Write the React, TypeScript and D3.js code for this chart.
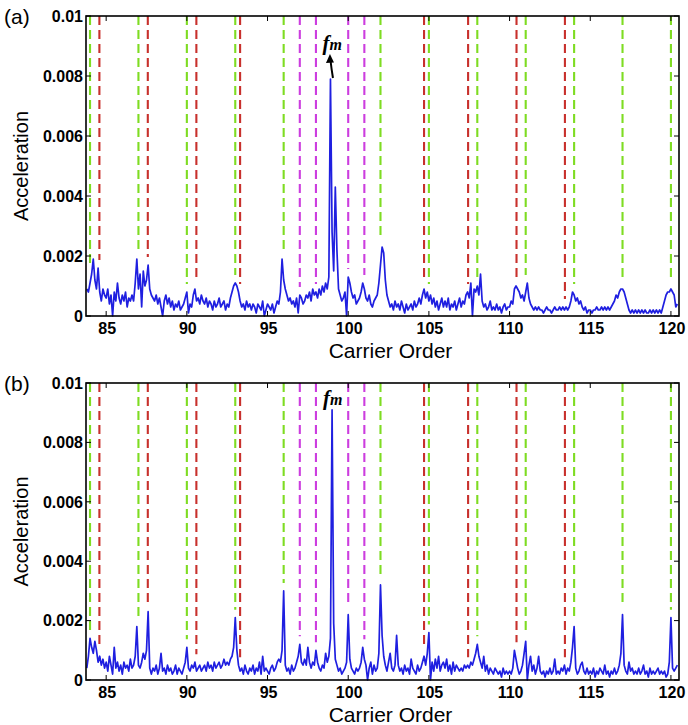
import React from 'react';
import * as d3 from 'd3';

// spectrum sampled every 0.1 carrier order from 83.8 to 120.4, amplitudes in units of 1e-4
const ORDER_START = 83.8;
const ORDER_STEP = 0.1;
const UNIT = 1e-4;

const spectrumA = [
  9, 8,
  11, 14, 19, 12, 9, 16, 8, 5, 9, 7,
  6, 9, 4, 7, 0, 8, 5, 11, 6, 4,
  7, 5, 8, 3, 6, 5, 7, 5, 11, 19,
  9, 14, 3, 15, 10, 12, 17, 9, 7, 6,
  5, 7, 4, 6, 3, 0, 5, 7, 4, 6,
  3, 5, 2, 4, 3, 5, 2, 3, 4, 6,
  8, 1, 4, 3, 7, 9, 5, 6, 4, 7,
  5, 4, 6, 3, 5, 4, 2, 5, 3, 4,
  6, 3, 4, 5, 2, 4, 3, 6, 8, 10,
  11, 10, 8, 5, 3, 4, 2, 5, 3, 4,
  2, 4, 3, 1, 4, 3, 2, 5, 0, 2,
  4, 3, 2, 4, 1, 3, 5, 4, 8, 19,
  12, 9, 7, 5, 6, 4, 5, 3, 6, 1,
  7, 6, 4, 5, 7, 6, 8, 5, 9, 7,
  8, 6, 9, 7, 10, 8, 11, 9, 13, 79,
  28, 15, 43, 22, 9, 7, 5, 6, 8, 0,
  13, 11, 8, 6, 7, 4, 5, 6, 8, 11,
  9, 6, 5, 7, 4, 3, 5, 6, 7, 11,
  17, 23, 21, 12, 7, 5, 3, 4, 2, 5,
  3, 4, 2, 5, 3, 1, 4, 2, 3, 4,
  2, 5, 3, 4, 6, 4, 7, 9, 6, 8,
  5, 7, 4, 6, 3, 5, 2, 4, 6, 3,
  5, 3, 6, 2, 4, 3, 5, 2, 4, 6,
  3, 5, 4, 7, 8, 6, 11, 0, 9, 8,
  10, 7, 14, 5, 3, 4, 2, 3, 5, 2,
  3, 2, 4, 2, 3, 1, 3, 4, 2, 3,
  3, 5, 4, 9, 10, 9, 8, 6, 7, 5,
  8, 11, 6, 4, 3, 2, 3, 2, 3, 2,
  2, 1, 2, 3, 2, 2, 1, 2, 3, 2,
  2, 3, 2, 3, 2, 3, 2, 3, 5, 8,
  7, 5, 6, 4, 5, 3, 2, 3, 1, 2,
  2, 1, 2, 2, 3, 2, 2, 3, 2, 3,
  2, 3, 2, 3, 4, 5, 7, 6, 8, 9,
  9, 8, 6, 4, 2, 1, 2, 1, 2, 1,
  2, 1, 2, 1, 2, 1, 1, 2, 1, 2,
  1, 2, 1, 2, 1, 3, 5, 7, 8, 8,
  9, 8, 7, 3, 4,
];

const spectrumB = [
  4, 8,
  14, 11, 9, 13, 10, 6, 8, 5, 7, 4,
  6, 3, 8, 5, 2, 11, 4, 6, 3, 5,
  2, 6, 4, 5, 3, 7, 4, 5, 8, 18,
  5, 4, 6, 9, 7, 10, 23, 4, 2, 4,
  3, 5, 2, 4, 9, 3, 4, 2, 5, 3,
  4, 2, 3, 5, 2, 4, 3, 2, 4, 6,
  11, 4, 3, 5, 4, 6, 3, 4, 5, 3,
  4, 5, 3, 6, 4, 5, 3, 6, 4, 5,
  6, 4, 5, 7, 5, 6, 5, 7, 8, 11,
  21, 10, 5, 3, 4, 2, 5, 3, 2, 4,
  3, 5, 2, 4, 3, 6, 2, 8, 3, 4,
  3, 2, 4, 5, 3, 4, 6, 7, 6, 10,
  30, 5, 3, 4, 2, 5, 3, 4, 6, 8,
  12, 6, 5, 7, 5, 11, 6, 4, 6, 5,
  10, 6, 4, 3, 5, 4, 9, 6, 8, 14,
  91, 19, 7, 5, 3, 4, 2, 3, 4, 6,
  22, 7, 4, 3, 2, 4, 3, 4, 6, 11,
  7, 5, 0, 4, 6, 2, 5, 3, 4, 9,
  32, 15, 8, 5, 3, 6, 9, 4, 3, 5,
  15, 5, 3, 4, 2, 5, 3, 4, 2, 7,
  4, 3, 2, 5, 3, 4, 6, 8, 5, 9,
  16, 0, 6, 3, 7, 4, 8, 3, 5, 6,
  4, 7, 3, 5, 2, 6, 3, 5, 4, 3,
  4, 3, 5, 4, 5, 4, 6, 5, 7, 9,
  12, 8, 6, 4, 8, 3, 5, 2, 4, 3,
  2, 4, 3, 2, 3, 1, 4, 2, 3, 2,
  3, 2, 4, 10, 7, 4, 2, 3, 5, 9,
  13, 0, 5, 8, 3, 5, 2, 4, 8, 3,
  2, 3, 1, 3, 2, 4, 2, 3, 7, 2,
  3, 2, 4, 3, 5, 2, 4, 3, 6, 11,
  18, 4, 2, 3, 5, 6, 3, 2, 4, 2,
  3, 2, 4, 1, 3, 2, 4, 3, 2, 5,
  2, 3, 1, 3, 2, 4, 2, 3, 5, 9,
  22, 5, 3, 2, 6, 3, 4, 2, 3, 2,
  4, 2, 3, 5, 2, 3, 1, 4, 2, 3,
  2, 3, 4, 2, 3, 2, 3, 1, 2, 6,
  21, 4, 3, 4, 5,
];

const greenOrders = [84, 87, 90, 93, 96, 102, 105, 108, 111, 114, 117, 120];
const redOrders = [84.58, 87.58, 90.59, 93.3, 104.7, 107.43, 110.43, 113.43];
const magentaOrders = [97, 98, 100, 101];

const xTicks = [85, 90, 95, 100, 105, 110, 115, 120];
const yTicks = [0, 0.002, 0.004, 0.006, 0.008, 0.01];
const yTickLabels = ['0', '0.002', '0.004', '0.006', '0.008', '0.01'];
const panelLabels = ['(a)', '(b)'];
const xTitle = 'Carrier Order';
const yTitle = 'Acceleration';

const X_DOMAIN: [number, number] = [83.75, 120.5];
const LEFT = 86;
const RIGHT = 679;
const SANS = '"Liberation Sans", Arial, Helvetica, sans-serif';
const SERIF = '"Liberation Serif", "Times New Roman", serif';

const BLUE = '#1f1fe0';
const GREEN = '#7edc22';
const RED = '#c8302c';
const MAGENTA = '#cc3ddf';

type PanelProps = {
  data: number[];
  top: number;
  bottom: number;
  label: string;
  arrow: boolean;
};

function Panel({ data, top, bottom, label, arrow }: PanelProps) {
  const x = d3.scaleLinear().domain(X_DOMAIN).range([LEFT, RIGHT]);
  const y = d3.scaleLinear().domain([0, 0.01]).range([bottom, top]);
  const pts = data.map((v, i) => ({ o: ORDER_START + i * ORDER_STEP, v: v * UNIT }));
  const line = d3
    .line<{ o: number; v: number }>()
    .x((d) => x(d.o))
    .y((d) => y(d.v));

  const localMax = (pos: number) => {
    const near = pts.filter((p) => Math.abs(p.o - pos) <= 0.151);
    return d3.max(near, (p) => p.v) ?? 0;
  };

  const dash = (orders: number[], color: string, key: string) =>
    orders.map((o) => (
      <line
        key={key + o}
        x1={x(o)}
        x2={x(o)}
        y1={top}
        y2={Math.max(top, y(localMax(o)) - 8)}
        stroke={color}
        strokeWidth={2.1}
        strokeDasharray="9,5"
      />
    ));

  const peakIdx = d3.maxIndex(pts, (p) => p.v);
  const peak = pts[peakIdx];
  const px = x(peak.o);
  const py = y(peak.v);

  const clipId = 'clip-' + label.replace(/[()]/g, '');

  return (
    <g>
      <defs>
        <clipPath id={clipId}>
          <rect x={LEFT} y={top} width={RIGHT - LEFT} height={bottom - top + 3} />
        </clipPath>
      </defs>
      {dash(greenOrders, GREEN, 'g')}
      {dash(redOrders, RED, 'r')}
      {dash(magentaOrders, MAGENTA, 'm')}
      <path
        d={line(pts) ?? ''}
        fill="none"
        stroke={BLUE}
        strokeWidth={1.7}
        strokeLinejoin="round"
        clipPath={`url(#${clipId})`}
      />
      <rect
        x={LEFT}
        y={top}
        width={RIGHT - LEFT}
        height={bottom - top}
        fill="none"
        stroke="#000"
        strokeWidth={1.6}
      />
      {yTicks.map((t, i) => (
        <g key={'yt' + i}>
          <line x1={LEFT} x2={LEFT + 5} y1={y(t)} y2={y(t)} stroke="#000" strokeWidth={1} />
          <line x1={RIGHT} x2={RIGHT - 5} y1={y(t)} y2={y(t)} stroke="#000" strokeWidth={1} />
          <text
            x={LEFT - 3}
            y={y(t)}
            dy="0.36em"
            textAnchor="end"
            fontFamily={SANS}
            fontWeight="bold"
            fontSize={16}
            fill="#000"
          >
            {yTickLabels[i]}
          </text>
        </g>
      ))}
      {xTicks.map((t) => (
        <g key={'xt' + t}>
          <line x1={x(t)} x2={x(t)} y1={bottom} y2={bottom - 5} stroke="#000" strokeWidth={1} />
          <line x1={x(t)} x2={x(t)} y1={top} y2={top + 5} stroke="#000" strokeWidth={1} />
          <text
            x={x(t) + 1}
            y={bottom + 18}
            textAnchor="middle"
            fontFamily={SANS}
            fontWeight="bold"
            fontSize={16}
            fill="#000"
          >
            {t}
          </text>
        </g>
      ))}
      <text
        x={LEFT + (RIGHT - LEFT) / 2 + 8}
        y={bottom + 42}
        textAnchor="middle"
        fontFamily={SANS}
        fontSize={21}
        fill="#000"
      >
        {xTitle}
      </text>
      <text
        transform={`translate(28, ${(top + bottom) / 2}) rotate(-90)`}
        textAnchor="middle"
        fontFamily={SANS}
        fontSize={20}
        fill="#000"
      >
        {yTitle}
      </text>
      <text x={4} y={top + 8} fontFamily={SANS} fontSize={21} fill="#000">
        {label}
      </text>
      {arrow ? (
        <g>
          <path
            d={`M${px + 2.5},${py - 1} Q${px + 1},${py - 10} ${px},${py - 19}`}
            fill="none"
            stroke="#000"
            strokeWidth={2}
          />
          <path
            d={`M${px - 0.5},${py - 25} L${px - 4.5},${py - 16} L${px + 3.5},${py - 16.5} Z`}
            fill="#000"
          />
          <text x={px - 8} y={py - 29} fontFamily={SERIF} fontStyle="italic" fontWeight="bold" fill="#000">
            <tspan fontSize={21}>f</tspan>
            <tspan fontSize={16}>m</tspan>
          </text>
        </g>
      ) : (
        <text x={px - 9} y={py - 5} fontFamily={SERIF} fontStyle="italic" fontWeight="bold" fill="#000">
          <tspan fontSize={21}>f</tspan>
          <tspan fontSize={16}>m</tspan>
        </text>
      )}
    </g>
  );
}

export default function App() {
  return (
    <svg
      width={688}
      height={725}
      style={{ position: 'absolute', left: 0, top: 0, background: '#fff' }}
    >
      <rect x={0} y={0} width={688} height={725} fill="#fff" />
      <Panel data={spectrumA} top={16} bottom={316} label={panelLabels[0]} arrow={true} />
      <Panel data={spectrumB} top={383} bottom={680} label={panelLabels[1]} arrow={false} />
    </svg>
  );
}
